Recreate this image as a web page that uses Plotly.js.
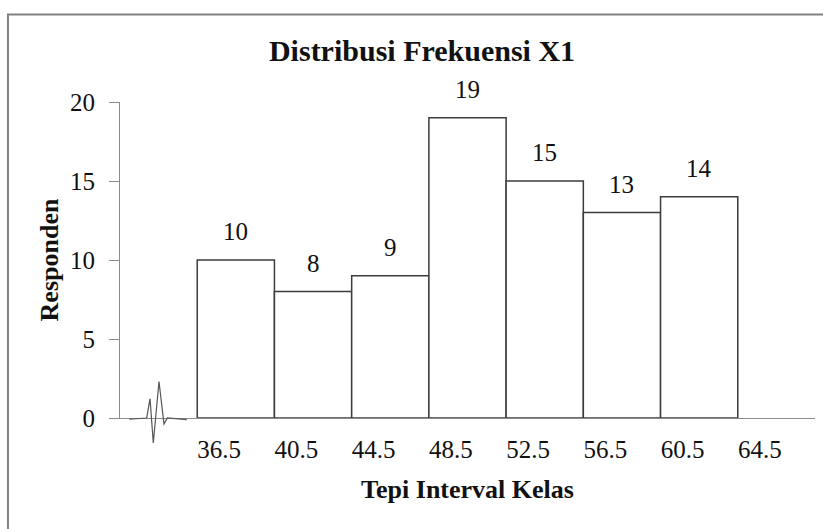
<!DOCTYPE html>
<html>
<head>
<meta charset="utf-8">
<script src="https://cdn.plot.ly/plotly-3.0.1.min.js"></script>
<style>
  html, body { margin: 0; padding: 0; background: #ffffff; }
  #chart { width: 823px; height: 529px; }
</style>
</head>
<body>
<div id="chart"></div>
<script>
// ---- data ----
var classEdges = [36.5, 40.5, 44.5, 48.5, 52.5, 56.5, 60.5, 64.5];
var tickLabels = ["36.5", "40.5", "44.5", "48.5", "52.5", "56.5", "60.5", "64.5"];
var frequencies = [10, 8, 9, 19, 15, 13, 14];
var chartTitle = "Distribusi Frekuensi X1";
var xTitle = "Tepi Interval Kelas";
var yTitle = "Responden";

// bar centres/widths from the class edges
var barX = [], barW = [];
for (var i = 0; i < frequencies.length; i++) {
  barX.push((classEdges[i] + classEdges[i + 1]) / 2);
  barW.push(classEdges[i + 1] - classEdges[i]);
}

var serif = "Liberation Serif";

var trace = {
  type: "bar",
  x: barX,
  y: frequencies,
  width: barW,
  marker: { color: "#ffffff", line: { color: "#3c3c3c", width: 1.5 } },
  hoverinfo: "x+y",
  showlegend: false
};

var annotations = frequencies.map(function (v, i) {
  return {
    x: barX[i], y: v, xref: "x", yref: "y",
    text: String(v), showarrow: false,
    yanchor: "bottom", yshift: 13,
    font: { family: serif, size: 25, color: "#111111" }
  };
});

// decorative axis-break squiggle in the empty first slot and the outer frame
var shapes = [
  {
    type: "rect", xref: "paper", yref: "paper",
    x0: -0.1612, x1: 1.03, y0: -0.45, y1: 1.277,
    line: { color: "#808080", width: 2 }, fillcolor: "rgba(0,0,0,0)", layer: "below"
  },
  {
    type: "path", xref: "paper", yref: "paper",
    path: "M0.0134,-0.004 L0.0384,0 L0.0432,0.061 L0.0479,-0.079 L0.0561,0.1156 L0.0633,-0.019 L0.0681,0 L0.096,-0.005",
    line: { color: "#555555", width: 1.2 }
  }
];

var layout = {
  width: 823,
  height: 529,
  margin: { l: 120, r: 8, t: 101.7, b: 110.7, pad: 0 },
  paper_bgcolor: "#ffffff",
  plot_bgcolor: "#ffffff",
  font: { family: serif, color: "#111111" },
  title: {
    text: chartTitle,
    x: 0.5128, xanchor: "center", xref: "container",
    y: 0.905, yanchor: "middle", yref: "container",
    font: { family: serif, size: 30, weight: "bold", color: "#111111" }
  },
  xaxis: {
    range: [32.5, 68.5],
    tickmode: "array",
    tickvals: classEdges,
    ticktext: tickLabels,
    ticks: "",
    ticklabelshift: 22,
    ticklabelstandoff: 9,
    showgrid: false,
    zeroline: false,
    showline: true,
    linecolor: "#8a8a8a",
    linewidth: 1,
    automargin: true,
    tickfont: { family: serif, size: 25, color: "#111111" },
    title: { text: xTitle, standoff: 17, font: { family: serif, size: 26, weight: "bold", color: "#111111" } },
    fixedrange: true
  },
  yaxis: {
    range: [0, 20],
    tickmode: "array",
    tickvals: [0, 5, 10, 15, 20],
    ticks: "outside",
    ticklen: 10,
    tickcolor: "#8a8a8a",
    tickwidth: 1,
    ticklabelstandoff: 9,
    showgrid: false,
    zeroline: false,
    showline: true,
    linecolor: "#8a8a8a",
    linewidth: 1,
    tickfont: { family: serif, size: 25, color: "#111111" },
    title: { text: yTitle, font: { family: serif, size: 26, weight: "bold", color: "#111111" } },
    fixedrange: true
  },
  bargap: 0,
  annotations: annotations,
  shapes: shapes
};

Plotly.newPlot("chart", [trace], layout, { displayModeBar: false, staticPlot: true });
</script>
</body>
</html>
